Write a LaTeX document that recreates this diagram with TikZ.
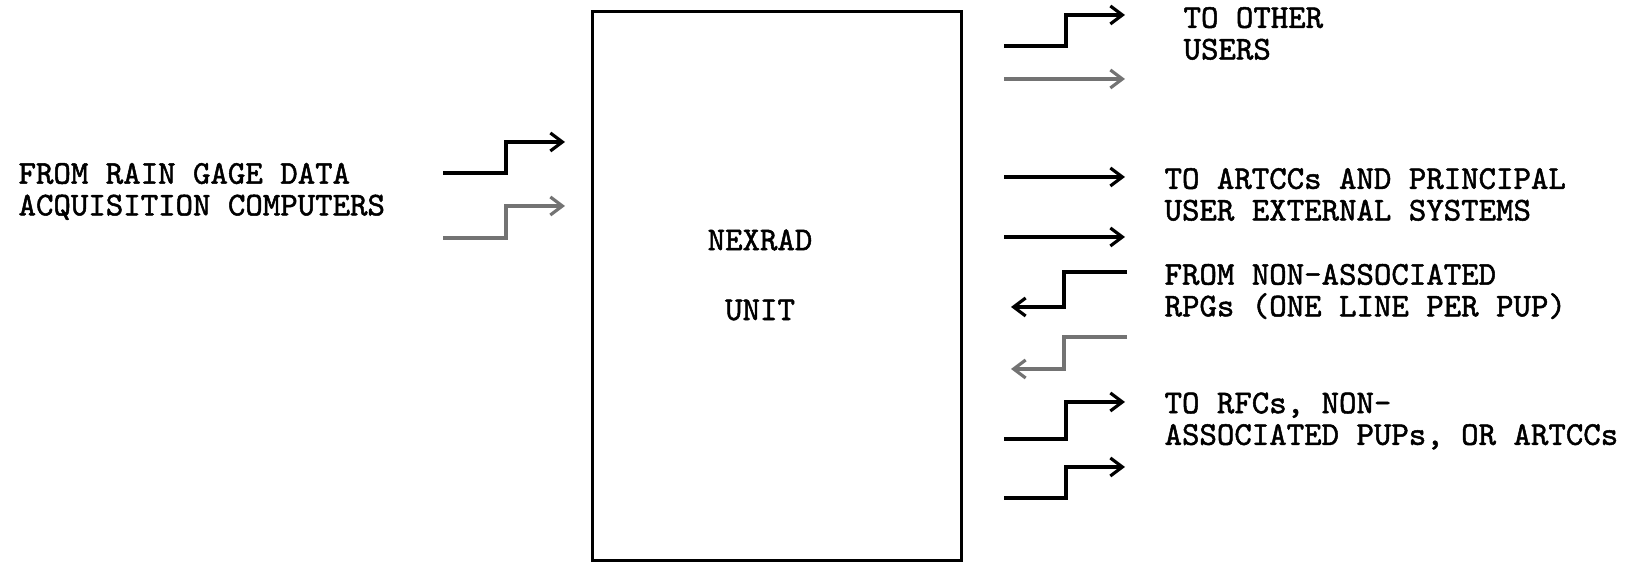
\documentclass[tikz,border=0pt]{standalone}
\usepackage{fontspec}
\newfontfamily\typewriter[FakeBold=1.5]{lmmono10-regular.otf}
\usetikzlibrary{arrows.meta,positioning}

\begin{document}
\begin{tikzpicture}[x=0.01cm,y=-0.01cm,>={Straight Barb[length=1.2mm,width=1.8mm]},
                    line width=0.9pt,
                    every node/.style={font=\typewriter\fontsize{9.45}{9}\selectfont,inner sep=0pt}]
  \tikzstyle{faded}=[draw=black!55]
  \tikzstyle{txt}=[align=left, anchor=west]
  \useasboundingbox (0,0) rectangle (1627,562);

 \node[draw, minimum width=3.68cm, minimum height=5.48cm](nexrad_unit) at (777,286) {};
 \node (lbl_nexrad) at (760,240) {NEXRAD};
 \node[below=4.6mm of lbl_nexrad](lbl_unit){UNIT};

 \node[txt](gage) at (17,191.5) {FROM RAIN GAGE DATA\\ACQUISITION COMPUTERS};
 \node[txt](users) at (1182,33.5) {TO OTHER\\USERS};
 \node[txt](artcc) at (1163,194.5) {TO ARTCCs AND PRINCIPAL\\USER EXTERNAL SYSTEMS};
 \node[txt](rpg) at (1163,291.5) {FROM NON-ASSOCIATED\\RPGs (ONE LINE PER PUP)};
 \node[txt](rfc) at (1163,421) {TO RFCs, NON-\\ASSOCIATED PUPs, OR ARTCCs};

 % lines from the rain gage computers
 \coordinate (gage1_s) at (443,173); \coordinate (gage1_e) at (565,142);
 \coordinate (gage2_s) at (443,238); \coordinate (gage2_e) at (565,206);
 \draw[->] (gage1_s) -- ++(63,0) |- (gage1_e);
 \draw[->,faded] (gage2_s) -- ++(63,0) |- (gage2_e);

 % outgoing lines
 \coordinate (users1_s) at (1004,46); \coordinate (users1_e) at (1125,15);
 \coordinate (users2_s) at (1004,79); \coordinate (users2_e) at (1125,79);
 \draw[->] (users1_s) -- ++(62,0) |- (users1_e);
 \draw[->,faded] (users2_s) -- (users2_e);

 \coordinate (artcc1_s) at (1004,177); \coordinate (artcc1_e) at (1125,177);
 \coordinate (artcc2_s) at (1004,237); \coordinate (artcc2_e) at (1125,237);
 \draw[->] (artcc1_s) -- (artcc1_e);
 \draw[->] (artcc2_s) -- (artcc2_e);

 % incoming lines
 \coordinate (rpg1_s) at (1127,272); \coordinate (rpg1_e) at (1011,307);
 \coordinate (rpg2_s) at (1127,337); \coordinate (rpg2_e) at (1011,369);
 \draw[->] (rpg1_s) -- ++(-63,0) |- (rpg1_e);
 \draw[->,faded] (rpg2_s) -- ++(-63,0) |- (rpg2_e);

 \coordinate (rfc1_s) at (1004,439); \coordinate (rfc1_e) at (1125,402);
 \coordinate (rfc2_s) at (1004,498); \coordinate (rfc2_e) at (1125,467);
 \draw[->] (rfc1_s) -- ++(62,0) |- (rfc1_e);
 \draw[->] (rfc2_s) -- ++(62,0) |- (rfc2_e);

\end{tikzpicture}
\end{document}
